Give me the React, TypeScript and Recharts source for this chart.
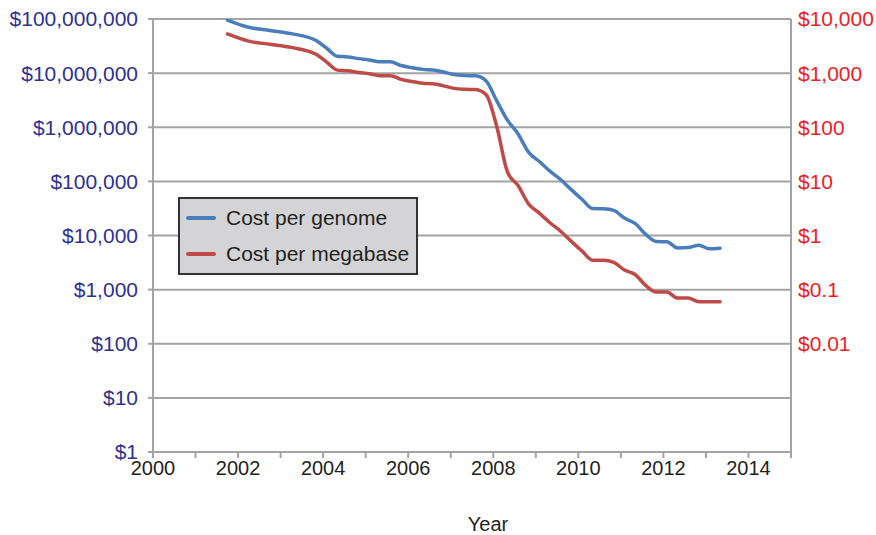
import React from "react";
import { CartesianGrid, Line, LineChart, XAxis, YAxis } from "recharts";

// decimal year of each quarterly reading
const DATES = [
  2001.75, 2002.25, 2002.75, 2003.25, 2003.833, 2004.083, 2004.333, 2004.583, 2004.833,
  2005.083, 2005.333, 2005.583, 2005.833, 2006.083, 2006.333, 2006.583, 2006.833,
  2007.083, 2007.333, 2007.583, 2007.833, 2008.083, 2008.333, 2008.583, 2008.833,
  2009.083, 2009.333, 2009.583, 2009.833, 2010.083, 2010.333, 2010.583, 2010.833,
  2011.083, 2011.333, 2011.583, 2011.833, 2012.083, 2012.333, 2012.583, 2012.833,
  2013.083, 2013.333,
];

const COST_PER_GENOME = [
  95263000, 70175000, 61448000, 53752000, 40158000, 28780000, 20443000, 19934000, 18519000,
  17535000, 16160000, 16180000, 13801000, 12586000, 11733000, 11455000, 10475000,
  9409000, 9047000, 8927000, 7148000, 3064000, 1353000, 752000, 342500,
  232700, 154700, 108100, 70330, 46770, 31510, 31130, 29090,
  20960, 16710, 10500, 7743, 7666, 5901, 5985, 6618,
  5671, 5826,
];

const COST_PER_MEGABASE = [
  5292, 3899, 3414, 2986, 2231, 1599, 1136, 1107, 1029,
  974, 898, 899, 767, 699, 652, 636, 582,
  523, 503, 496, 397, 102, 15.0, 8.36, 3.81,
  2.59, 1.72, 1.2, 0.78, 0.52, 0.35, 0.35, 0.32,
  0.23, 0.19, 0.12, 0.09, 0.09, 0.07, 0.07, 0.06,
  0.06, 0.06,
];

const YEAR_TICKS = [
  2000, 2001, 2002, 2003, 2004, 2005, 2006, 2007, 2008, 2009, 2010, 2011, 2012, 2013, 2014, 2015,
];
const GENOME_TICKS = [1, 10, 100, 1000, 10000, 100000, 1000000, 10000000, 100000000];
const MEGABASE_TICKS = [0.01, 0.1, 1, 10, 100, 1000, 10000];

const SERIES = [
  { key: "genome", name: "Cost per genome", color: "#4a7ebb" },
  { key: "megabase", name: "Cost per megabase", color: "#be4b48" },
];

const data = DATES.map((year, i) => ({
  year,
  genome: COST_PER_GENOME[i],
  megabase: COST_PER_MEGABASE[i],
}));

const FONT = "'Liberation Sans', Arial, Helvetica, sans-serif";
const GRID = "#a3a3a3";
const INK = "#231f20";
const BLUE_TEXT = "#2e3192";
const RED_TEXT = "#ed1c24";

const money = (v: number) => (v >= 1 ? "$" + v.toLocaleString("en-US") : "$" + String(v));

function LegendBox() {
  return (
    <div
      style={{
        position: "absolute",
        left: 178,
        top: 197,
        width: 236,
        height: 74,
        background: "#d4d4d6",
        border: "2px solid #333",
        fontFamily: FONT,
        fontSize: 21,
        color: INK,
      }}
    >
      {SERIES.map((s, i) => (
        <div
          key={s.key}
          style={{ position: "absolute", left: 6, top: 7 + i * 36, height: 24, display: "flex", alignItems: "center" }}
        >
          <span style={{ display: "inline-block", width: 30, height: 4, borderRadius: 2, background: s.color }} />
          <span style={{ marginLeft: 10, whiteSpace: "nowrap" }}>{s.name}</span>
        </div>
      ))}
    </div>
  );
}

export default function App() {
  return (
    <div style={{ position: "relative", width: 876, height: 535, background: "#fff" }}>
      <style>{`body{margin:0}`}</style>
      <LineChart width={876} height={535} data={data} margin={{ top: 19, right: 0, bottom: 43, left: 0 }}>
        <CartesianGrid yAxisId="left" vertical={false} stroke={GRID} strokeWidth={2} />
        <XAxis
          dataKey="year"
          type="number"
          domain={[2000, 2015]}
          ticks={YEAR_TICKS}
          interval={0}
          height={40}
          tickSize={6}
          tickMargin={3}
          stroke={GRID}
          strokeWidth={2}
          tick={{ fill: INK, fontSize: 20, fontFamily: FONT }}
          tickFormatter={(v: number) => (v % 2 === 0 && v < 2015 ? String(v) : "")}
          label={{ value: "Year", position: "bottom", offset: 25, dx: 16, fill: INK, fontSize: 20, fontFamily: FONT }}
        />
        <YAxis
          yAxisId="left"
          scale="log"
          type="number"
          domain={[1, 100000000]}
          ticks={GENOME_TICKS}
          interval={0}
          width={153}
          tickSize={5}
          tickMargin={10}
          stroke={GRID}
          strokeWidth={2}
          tick={{ fill: BLUE_TEXT, fontSize: 21, fontFamily: FONT }}
          tickFormatter={money}
          allowDataOverflow
        />
        <YAxis
          yAxisId="right"
          orientation="right"
          scale="log"
          type="number"
          domain={[0.0001, 10000]}
          ticks={MEGABASE_TICKS}
          interval={0}
          width={85}
          tickSize={0}
          tickMargin={7}
          stroke={GRID}
          strokeWidth={2}
          tick={{ fill: RED_TEXT, fontSize: 21, fontFamily: FONT, textAnchor: "start" }}
          tickFormatter={money}
          allowDataOverflow
        />
        {SERIES.map((s) => (
          <Line
            key={s.key}
            yAxisId={s.key === "genome" ? "left" : "right"}
            dataKey={s.key}
            name={s.name}
            type="monotone"
            stroke={s.color}
            strokeWidth={3.5}
            strokeLinecap="round"
            dot={false}
            isAnimationActive={false}
          />
        ))}
      </LineChart>
      <LegendBox />
    </div>
  );
}
